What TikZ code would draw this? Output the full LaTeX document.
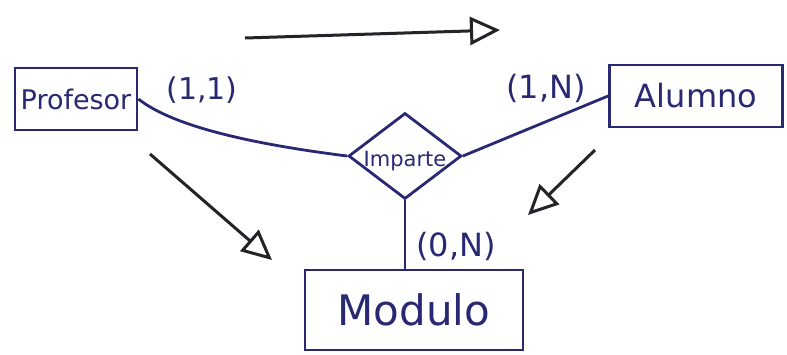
\documentclass[tikz,border=0pt]{standalone}
\usepackage{fontspec}
\setmainfont{DejaVu Sans}
\usetikzlibrary{shapes.geometric,arrows.meta}
\definecolor{ink}{RGB}{40,40,115}
\definecolor{pen}{RGB}{35,35,40}
\tikzset{
  entity/.style={draw=ink, line width=2.8pt, text=ink, font=\fontsize{27}{29}\selectfont, inner sep=0pt},
  rel/.style={diamond, draw=ink, line width=2.8pt, inner sep=0pt, minimum width=113pt, minimum height=86pt},
  reltext/.style={text=ink, font=\fontsize{21}{23}\selectfont, inner sep=0pt},
  conn/.style={draw=ink, line width=2.8pt},
  card/.style={text=ink, font=\fontsize{30}{32}\selectfont},
  hint/.style={draw=pen, line width=3pt, -{Triangle[open,length=30pt,width=28pt,line width=3pt]}}
}
\begin{document}
\begin{tikzpicture}[x=1pt,y=-1pt]
\useasboundingbox (0,0) rectangle (787,354);
\fill[white] (0,0) rectangle (787,354);
\node[entity, minimum width=122pt, minimum height=62pt] (profesor) at (76,99) {Profesor};
\node[entity, minimum width=173pt, minimum height=62pt, font=\fontsize{32}{34}\selectfont] (alumno) at (696,96) {Alumno};
\node[entity, minimum width=218pt, minimum height=80pt, font=\fontsize{42}{44}\selectfont] (modulo) at (414,310) {Modulo};
\node[rel] (imparte) at (405,156) {};
\node[reltext] (imptxt) at (405,161) {Imparte};
\draw[conn] (profesor.east) .. controls (175,128) and (260,145) .. (imparte.west);
\draw[conn] (alumno.west) -- (imparte.east);
\draw[conn] (imparte.south) -- (imparte.south |- modulo.north);
\node[card] (c11) at (202,90) {(1,1)};
\node[card, font=\fontsize{32}{34}\selectfont] (c1n) at (546,88) {(1,N)};
\node[card, font=\fontsize{32}{34}\selectfont] (c0n) at (456,246) {(0,N)};
\coordinate (a1s) at (245,38);
\coordinate (a1e) at (500,30);
\coordinate (a2s) at (150,154);
\coordinate (a2e) at (272,260);
\coordinate (a3s) at (595,150);
\coordinate (a3e) at (528,215);
\draw[hint] (a1s) -- (a1e);
\draw[hint] (a2s) -- (a2e);
\draw[hint] (a3s) -- (a3e);
\end{tikzpicture}
\end{document}
